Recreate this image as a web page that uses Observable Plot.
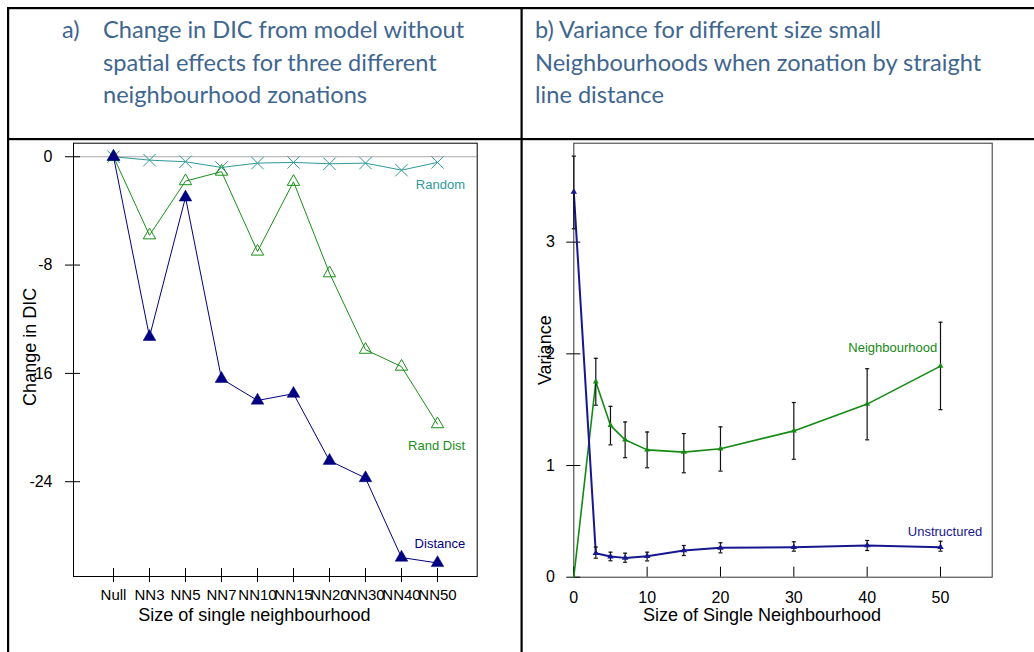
<!DOCTYPE html>
<html><head><meta charset="utf-8">
<script src="https://cdn.jsdelivr.net/npm/d3@7"></script>
<script src="https://cdn.jsdelivr.net/npm/@observablehq/plot@0.6"></script>
<style>
html,body{margin:0;padding:0;background:#fff;}
#page{position:relative;width:1034px;height:652px;overflow:hidden;}
#deco{position:absolute;left:0;top:0;}
.chart{position:absolute;top:130px;}
</style></head>
<body><div id="page">
<svg id="deco" width="1034" height="652"></svg>
<div id="left" class="chart" style="left:0px"></div>
<div id="right" class="chart" style="left:522px"></div>
</div>
<script>
// ---------- data ----------
const titleA = ["Change in DIC from model without", "spatial effects for three different", "neighbourhood zonations"];
const titleB = ["b) Variance for different size small", "Neighbourhoods when zonation by straight", "line distance"];

const categories = ["Null","NN3","NN5","NN7","NN10","NN15","NN20","NN30","NN40","NN50"];
const randomDIC   = [0,-0.25,-0.37,-0.79,-0.47,-0.42,-0.52,-0.47,-0.99,-0.42];
const randDistDIC = [0,-5.8,-1.8,-1.1,-7.0,-1.85,-8.6,-14.25,-15.5,-19.75];
const distanceDIC = [0,-13.3,-3.0,-16.4,-18.0,-17.5,-22.45,-23.73,-29.6,-30.0];
const dicTicks = [0,-8,-16,-24];

const sizes    = [0,3,5,7,10,15,20,30,40,50];
const neighVar = [0,1.75,1.36,1.23,1.14,1.12,1.15,1.31,1.55,1.89];
const neighLo  = [null,1.54,1.185,1.07,0.98,0.935,0.95,1.056,1.23,1.5];
const neighHi  = [null,1.96,1.53,1.39,1.30,1.286,1.346,1.564,1.867,2.283];
const unstrVar = [3.45,0.215,0.185,0.173,0.188,0.239,0.263,0.269,0.284,0.269];
const unstrLo  = [3.12,0.17,0.147,0.134,0.146,0.194,0.218,0.233,0.239,0.233];
const unstrHi  = [3.77,0.27,0.224,0.215,0.224,0.284,0.308,0.317,0.329,0.322];
const sizeTicks = [0,10,20,30,40,50];
const varTicks = [0,1,2,3];

// ---------- decoration: table borders + titles ----------
const deco = d3.select("#deco");
const bc = "#000";
deco.append("rect").attr("x",7).attr("y",7).attr("width",1027).attr("height",2.2).attr("fill",bc);
deco.append("rect").attr("x",7).attr("y",7).attr("width",2.2).attr("height",645).attr("fill",bc);
deco.append("rect").attr("x",520.5).attr("y",7).attr("width",2.2).attr("height",645).attr("fill",bc);
deco.append("rect").attr("x",7).attr("y",138).attr("width",1027).attr("height",2.2).attr("fill",bc);
const tcol = "#3f668f";
const tfont = 'Lato, "Open Sans", sans-serif';
const tsize = 23.6;
const addT = (x,y,t) => deco.append("text").attr("x",x).attr("y",y).attr("font-family",tfont)
  .attr("font-size",tsize).attr("font-weight",400).attr("fill",tcol).text(t);
addT(62,38,"a)");
titleA.forEach((t,i)=>addT(103,38+i*32.5,t));
titleB.forEach((t,i)=>addT(535,38+i*32.5,t));

// ---------- left chart ----------
const FONT = '"Liberation Sans", Arial, sans-serif';
const teal = "#2f9999", green = "#1a8f1a", navy = "#000080";
{
  const width=520, height=522, mt=12.7, mb=76, ml=73, mr=43.3;
  const fw = width-ml-mr, fh = height-mt-mb;
  const rows = vals => categories.map((c,i)=>({c, v: vals[i]}));
  const rnd = rows(randomDIC), rd = rows(randDistDIC), dist = rows(distanceDIC);
  const chart = Plot.plot({
    width, height, marginTop:mt, marginBottom:mb, marginLeft:ml, marginRight:mr,
    style:{fontFamily:FONT, background:"transparent", color:"#000", overflow:"visible"},
    x:{type:"point", domain:categories, padding:1},
    y:{domain:[-31,1]},
    marks:[
      Plot.ruleY([0],{stroke:"#aaa"}),
      Plot.frame({stroke:"#000"}),
      Plot.axisX({tickSize:6, tickPadding:7, fontSize:15, label:null}),
      Plot.ruleX(categories,{x:d=>d, insetTop: fh-8, stroke:"#000"}),
      Plot.axisY({ticks:dicTicks, tickSize:8, tickPadding:13, fontSize:16, label:null, tickFormat:d=>String(d)}),
      Plot.ruleY(dicTicks,{y:d=>d, insetRight: fw-7, stroke:"#000"}),
      Plot.text(["Size of single neighbourhood"],{text:d=>d, frameAnchor:"bottom", lineAnchor:"middle", textAnchor:"middle", dy:39, dx:-21, fontSize:18}),
      Plot.text(["Change in DIC"],{text:d=>d, frameAnchor:"left", lineAnchor:"middle", textAnchor:"middle", rotate:-90, dx:-43, dy:-13, fontSize:18}),
      Plot.line(rnd,{x:"c", y:"v", stroke:teal, strokeWidth:1}),
      Plot.dot(rnd,{x:"c", y:"v", symbol:"times", r:5.7, stroke:teal, strokeWidth:1}),
      Plot.line(rd,{x:"c", y:"v", stroke:green, strokeWidth:1}),
      Plot.dot(rd,{x:"c", y:"v", symbol:"triangle", r:4.6, stroke:green, fill:"none", strokeWidth:1}),
      Plot.line(dist,{x:"c", y:"v", stroke:navy, strokeWidth:1}),
      Plot.dot(dist,{x:"c", y:"v", symbol:"triangle", r:4.7, fill:navy, stroke:navy, strokeWidth:0.5}),
      Plot.text(rnd.slice(-1),{x:"c", y:"v", text:()=>"Random", textAnchor:"end", dx:27.5, dy:22.3, fill:teal, fontSize:13}),
      Plot.text(rd.slice(-1),{x:"c", y:"v", text:()=>"Rand Dist", textAnchor:"end", dx:27.7, dy:21.6, fill:green, fontSize:13}),
      Plot.text(dist.slice(-1),{x:"c", y:"v", text:()=>"Distance", textAnchor:"end", dx:27.7, dy:-19.6, fill:navy, fontSize:13})
    ]
  });
  document.getElementById("left").append(chart);
}

// ---------- right chart ----------
{
  const width=512, height=522, mt=12.7, mb=75.3, ml=51.3, mr=42.3;
  const fw = width-ml-mr, fh = height-mt-mb;
  const g2 = "#138a13", n2 = "#17178f";
  const neigh = sizes.map((s,i)=>({s, v:neighVar[i], lo:neighLo[i], hi:neighHi[i]}));
  const unstr = sizes.map((s,i)=>({s, v:unstrVar[i], lo:unstrLo[i], hi:unstrHi[i]}));
  const neighErr = neigh.filter(d=>d.lo!=null);
  const cap = {draw(ctx,size){const w=Math.sqrt(size)/2; ctx.moveTo(-w,0); ctx.lineTo(w,0);}};
  const errMarks = data => [
    Plot.ruleX(data,{x:"s", y1:"lo", y2:"hi", stroke:"#111", strokeWidth:1.2}),
    Plot.dot(data,{x:"s", y:"lo", symbol:cap, r:2.3, stroke:"#111", strokeWidth:1.2}),
    Plot.dot(data,{x:"s", y:"hi", symbol:cap, r:2.3, stroke:"#111", strokeWidth:1.2})
  ];
  const chart = Plot.plot({
    width, height, marginTop:mt, marginBottom:mb, marginLeft:ml, marginRight:mr,
    style:{fontFamily:FONT, background:"transparent", color:"#000", overflow:"visible"},
    x:{domain:[0,57.05]},
    y:{domain:[0,3.886]},
    marks:[
      Plot.frame({stroke:"#333"}),
      Plot.axisX({ticks:sizeTicks, tickSize:0, tickPadding:14, fontSize:16, label:null, tickFormat:d=>String(d)}),
      Plot.ruleX(sizeTicks,{x:d=>d, insetTop: fh-10, stroke:"#000"}),
      Plot.axisY({ticks:varTicks, tickSize:7, tickPadding:12, fontSize:16, label:null, tickFormat:d=>String(d)}),
      Plot.ruleY(varTicks,{y:d=>d, insetRight: fw-7, stroke:"#000"}),
      Plot.text(["Size of Single Neighbourhood"],{text:d=>d, frameAnchor:"bottom", lineAnchor:"middle", textAnchor:"middle", dy:38, dx:-21, fontSize:18}),
      Plot.text(["Variance"],{text:d=>d, frameAnchor:"left", lineAnchor:"middle", textAnchor:"middle", rotate:-90, dx:-29, dy:-10, fontSize:18}),
      Plot.line(neigh,{x:"s", y:"v", stroke:g2, strokeWidth:1.6}),
      Plot.line(unstr,{x:"s", y:"v", stroke:n2, strokeWidth:2}),
      ...errMarks(neighErr),
      ...errMarks(unstr),
      Plot.dot(neigh.filter(d=>d.s>0),{x:"s", y:"v", symbol:"triangle", r:2.2, fill:g2}),
      Plot.dot(unstr,{x:"s", y:"v", symbol:"triangle", r:2.4, fill:n2}),
      Plot.text(neigh.slice(-1),{x:"s", y:"v", text:()=>"Neighbourhood", textAnchor:"end", dx:-3.3, dy:-18, fill:g2, fontSize:13}),
      Plot.text(unstr.slice(-1),{x:"s", y:"v", text:()=>"Unstructured", textAnchor:"end", dx:41.7, dy:-15, fill:n2, fontSize:13})
    ]
  });
  document.getElementById("right").append(chart);
}
</script>
</body></html>
